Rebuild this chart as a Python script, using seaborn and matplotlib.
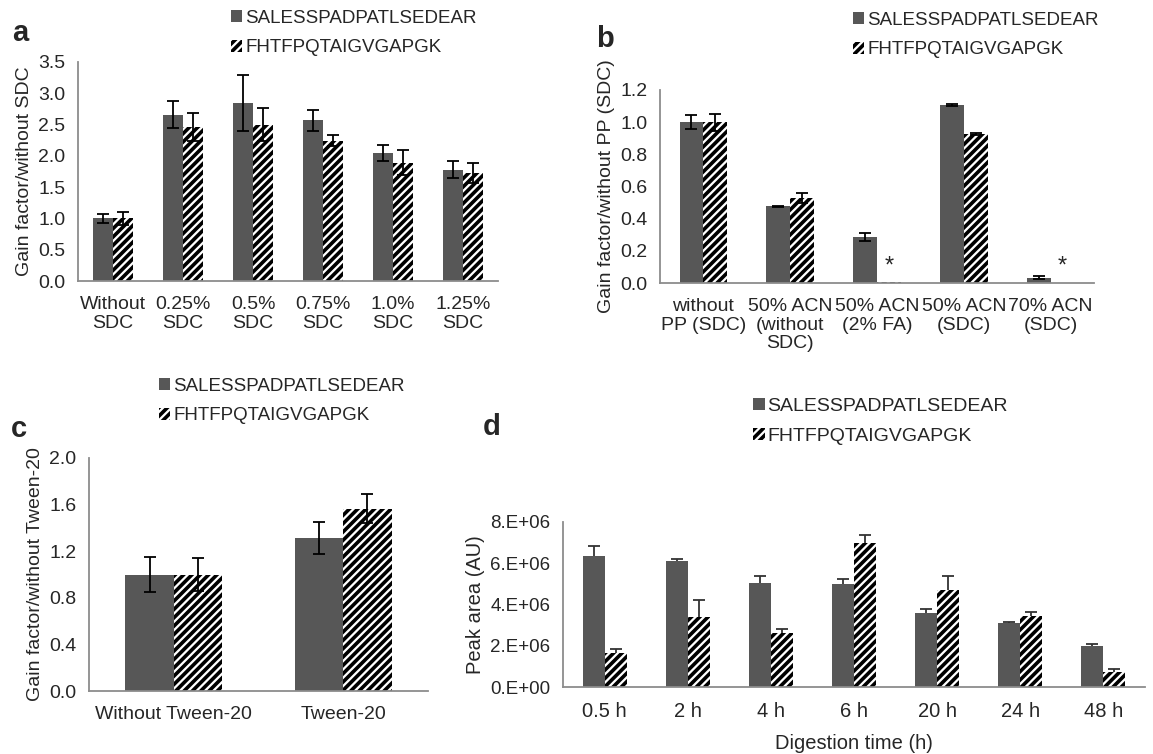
import numpy as np
import pandas as pd
import matplotlib
matplotlib.use("Agg")
import matplotlib.pyplot as plt
from matplotlib.patches import Patch
from matplotlib.ticker import FixedLocator, FuncFormatter
import seaborn as sns

# ---- data ----
series = ["SALESSPADPATLSEDEAR", "FHTFPQTAIGVGAPGK"]

a_cats = ["Without\nSDC", "0.25%\nSDC", "0.5%\nSDC", "0.75%\nSDC", "1.0%\nSDC", "1.25%\nSDC"]
a_sal = [1.00, 2.66, 2.85, 2.57, 2.05, 1.78]
a_sal_err = [0.07, 0.22, 0.45, 0.17, 0.13, 0.13]
a_fht = [1.00, 2.46, 2.50, 2.24, 1.89, 1.73]
a_fht_err = [0.10, 0.23, 0.27, 0.09, 0.20, 0.16]

b_cats = ["without\nPP (SDC)", "50% ACN\n(without\nSDC)", "50% ACN\n(2% FA)", "50% ACN\n(SDC)", "70% ACN\n(SDC)"]
b_sal = [1.00, 0.478, 0.285, 1.107, 0.033]
b_sal_err = [0.044, 0.003, 0.026, 0.007, 0.009]
b_fht = [1.00, 0.528, 0.005, 0.926, 0.003]
b_fht_err = [0.053, 0.030, 0.0, 0.006, 0.0]
b_star = [False, False, True, False, True]

c_cats = ["Without Tween-20", "Tween-20"]
c_sal = [1.00, 1.31]
c_sal_err = [0.15, 0.137]
c_fht = [1.00, 1.565]
c_fht_err = [0.14, 0.125]

d_cats = ["0.5 h", "2 h", "4 h", "6 h", "20 h", "24 h", "48 h"]
d_sal = [6.36e6, 6.09e6, 5.05e6, 4.99e6, 3.59e6, 3.08e6, 1.97e6]
d_sal_err = [0.46e6, 0.10e6, 0.35e6, 0.25e6, 0.17e6, 0.06e6, 0.13e6]
d_fht = [1.66e6, 3.38e6, 2.60e6, 6.98e6, 4.72e6, 3.45e6, 0.71e6]
d_fht_err = [0.20e6, 0.84e6, 0.22e6, 0.40e6, 0.67e6, 0.21e6, 0.14e6]

# ---- style ----
sns.set_style("white")
plt.rcParams['font.family'] = ['Liberation Sans', 'DejaVu Sans']
plt.rcParams['hatch.linewidth'] = 2.6
plt.rcParams['hatch.color'] = 'black'

DARK = "#575757"
AXC = "#8c8c8c"
W, H = 1153, 754

fig = plt.figure(figsize=(W / 100, H / 100), dpi=100)


def px_axes(left, top, right, bottom):
    return fig.add_axes([left / W, 1 - bottom / H, (right - left) / W, (bottom - top) / H])


def panel(ax, cats, sal, sal_err, fht, fht_err, ylim, yticks, ylabel, fmt,
          fs=14, yfs=None, err_behind=False, width=0.57):
    yfs = fs if yfs is None else yfs
    df = pd.DataFrame({
        "cat": cats * 2,
        "val": sal + fht,
        "pep": [series[0]] * len(cats) + [series[1]] * len(cats),
    })
    sns.barplot(data=df, x="cat", y="val", hue="pep", order=cats, hue_order=series,
                palette=[DARK, "white"], width=width, gap=0, errorbar=None,
                legend=False, ax=ax, zorder=2)
    for p in ax.containers[0].patches:
        p.set_edgecolor(DARK)
        p.set_linewidth(0)
    for p in ax.containers[1].patches:
        p.set_facecolor("white")
        p.set_edgecolor("black")
        p.set_hatch("////")
        p.set_linewidth(0)

    for cont, vals, errs in [(ax.containers[0], sal, sal_err), (ax.containers[1], fht, fht_err)]:
        xs, ys, es = [], [], []
        for p, v, e in zip(cont.patches, vals, errs):
            if e > 0:
                xs.append(p.get_x() + p.get_width() / 2)
                ys.append(v)
                es.append(e)
        ax.errorbar(xs, ys, yerr=es, fmt="none", ecolor="black" if not err_behind else "#333333",
                    elinewidth=1.3, capsize=4.5, capthick=1.3,
                    zorder=1 if err_behind else 3)

    n = len(cats)
    ax.set_xlim(-0.5, n - 0.5)
    ax.set_ylim(*ylim)
    ax.set_yticks(yticks)
    ax.yaxis.set_major_formatter(FuncFormatter(fmt))
    ax.xaxis.set_minor_locator(FixedLocator(np.arange(n + 1) - 0.5))
    ax.tick_params(axis="x", which="major", length=0, pad=11, labelsize=fs)
    ax.tick_params(axis="x", which="minor", length=7, width=1.2, color=AXC, direction="out")
    ax.tick_params(axis="y", length=5, width=1.2, color=AXC, direction="out", labelsize=yfs, pad=4)
    for t in ax.get_xticklabels():
        t.set_linespacing(1.1)
    ax.set_xlabel("")
    ax.set_ylabel(ylabel, fontsize=fs)
    for s in ["top", "right"]:
        ax.spines[s].set_visible(False)
    for s in ["left", "bottom"]:
        ax.spines[s].set_color(AXC)
        ax.spines[s].set_linewidth(1.3)


def add_legend(ax, x, y, fs=13.5):
    handles = [Patch(facecolor=DARK, edgecolor=DARK, linewidth=0),
               Patch(facecolor="white", edgecolor="black", hatch="////", linewidth=0)]
    ax.legend(handles, series, loc="upper left", bbox_to_anchor=(x / W, 1 - y / H),
              bbox_transform=fig.transFigure, frameon=False, fontsize=fs,
              handlelength=0.6, handleheight=0.6, handletextpad=0.15,
              labelspacing=0.65, borderpad=0, borderaxespad=0)


one_dec = lambda v, pos: f"{v:.1f}"

# a
ax_a = px_axes(78, 62, 498, 281)
panel(ax_a, a_cats, a_sal, a_sal_err, a_fht, a_fht_err, (0, 3.5),
      np.arange(0, 3.51, 0.5), "Gain factor/without SDC", one_dec)
add_legend(ax_a, 231, 10)
fig.text(12 / W, 1 - 41 / H, "a", fontsize=21, fontweight="bold")

# b
ax_b = px_axes(660, 90, 1094, 283)
panel(ax_b, b_cats, b_sal, b_sal_err, b_fht, b_fht_err, (0, 1.2),
      np.arange(0, 1.21, 0.2), "Gain factor/without PP (SDC)", one_dec, width=0.55)
for p, v, s in zip(ax_b.containers[1].patches, b_fht, b_star):
    if s:
        ax_b.text(p.get_x() + p.get_width() / 2, v + 0.03, "*", ha="center", va="bottom",
                  fontsize=17)
add_legend(ax_b, 853, 12)
fig.text(596 / W, 1 - 47 / H, "b", fontsize=21, fontweight="bold")

# c
ax_c = px_axes(89, 458, 428, 691)
panel(ax_c, c_cats, c_sal, c_sal_err, c_fht, c_fht_err, (0, 2.0),
      np.arange(0, 2.01, 0.4), "Gain factor/without Tween-20", one_dec)
add_legend(ax_c, 159, 378)
fig.text(11 / W, 1 - 437 / H, "c", fontsize=21, fontweight="bold")

# d
ax_d = px_axes(563, 522, 1145, 687)
panel(ax_d, d_cats, d_sal, d_sal_err, d_fht, d_fht_err, (0, 8e6),
      np.arange(0, 8.01e6, 2e6), "Peak area (AU)",
      lambda v, pos: f"{v / 1e6:.0f}.E+{6 if v > 0 else 0:02d}",
      fs=14.5, yfs=13.5, err_behind=True, width=0.53)
ax_d.set_xlabel("Digestion time (h)", fontsize=14.5, labelpad=9)
add_legend(ax_d, 753, 398, fs=14)
fig.text(483 / W, 1 - 435 / H, "d", fontsize=21, fontweight="bold")

fig.savefig("out.png", dpi=100)
